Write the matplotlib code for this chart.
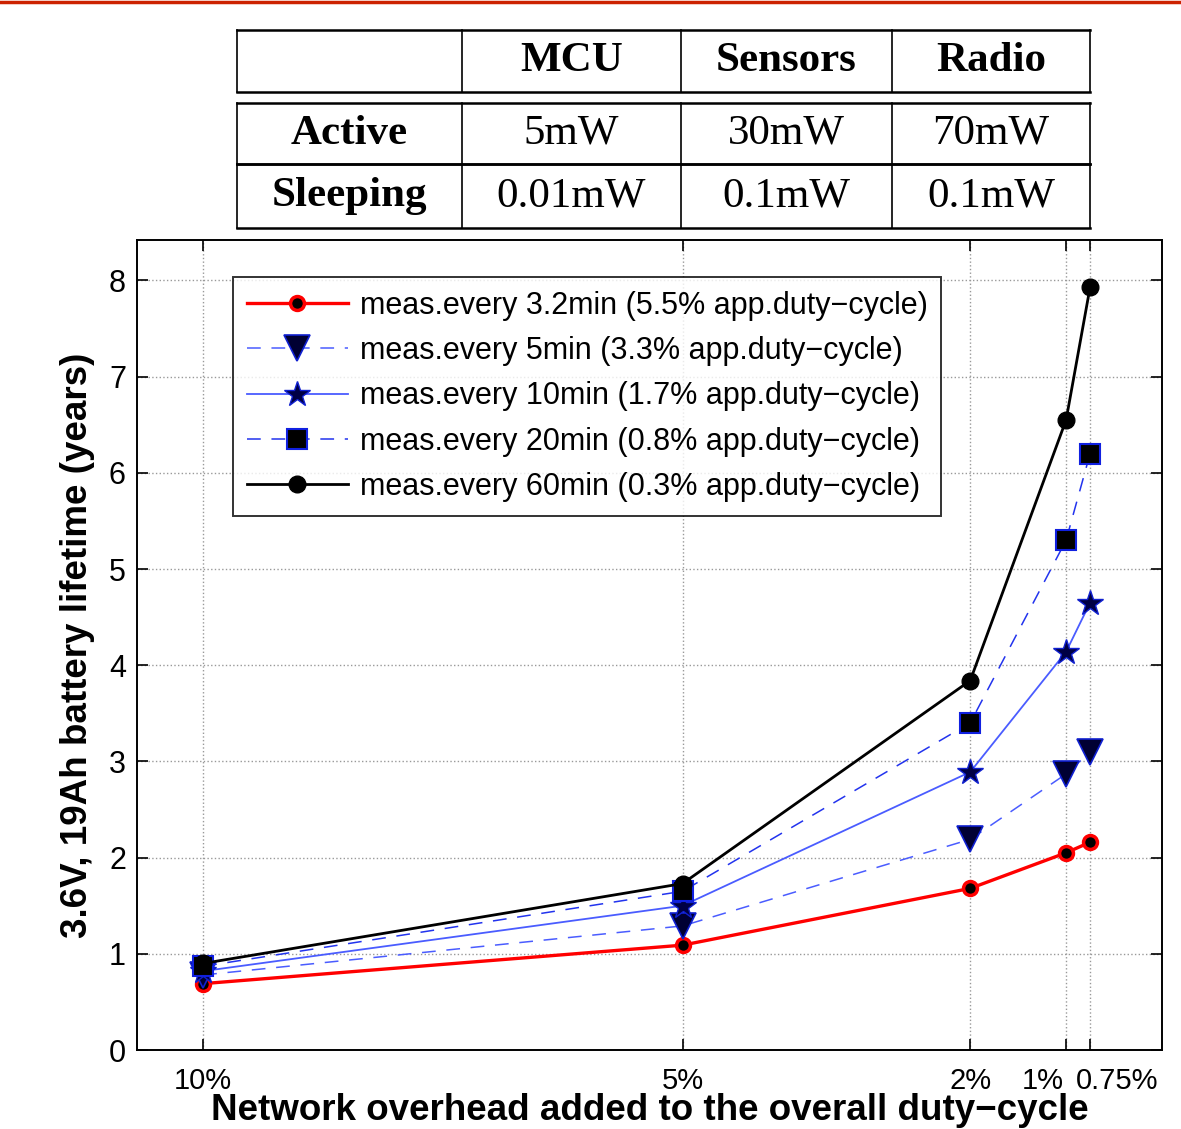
import matplotlib.pyplot as plt
import matplotlib.transforms as mtransforms
from matplotlib.lines import Line2D

# network overhead (%) on x, lifetime (years) on y
overhead = [10, 5, 2, 1, 0.75]
overhead_labels = ['10%', '5%', '2%', '1%', '0.75%']

life_3min = [0.69, 1.09, 1.68, 2.05, 2.16]
life_5min = [0.78, 1.29, 2.19, 2.87, 3.10]
life_10min = [0.82, 1.50, 2.89, 4.14, 4.65]
life_20min = [0.87, 1.65, 3.40, 5.30, 6.20]
life_60min = [0.90, 1.73, 3.84, 6.55, 7.93]

labels = ['meas.every 3.2min (5.5% app.duty\u2212cycle)',
          'meas.every 5min (3.3% app.duty\u2212cycle)',
          'meas.every 10min (1.7% app.duty\u2212cycle)',
          'meas.every 20min (0.8% app.duty\u2212cycle)',
          'meas.every 60min (0.3% app.duty\u2212cycle)']

# power table
tbl_cols = ['', 'MCU', 'Sensors', 'Radio']
tbl_active = ['Active', '5mW', '30mW', '70mW']
tbl_sleep = ['Sleeping', '0.01mW', '0.1mW', '0.1mW']

fig = plt.figure(figsize=(11.81, 11.29), dpi=100)
W, H = 1181.0, 1129.0

# red rule at very top
fig.add_artist(Line2D([0, 1], [1 - 1.5 / H, 1 - 1.5 / H], color='#cc2200', lw=2.5))

# ---- table drawn in figure pixels
col_x = [237, 462, 681, 892, 1090]
def hline(y, lw=1.8):
    fig.add_artist(Line2D([col_x[0] / W, col_x[-1] / W], [1 - y / H, 1 - y / H], color='k', lw=lw))
def vline(x, y0, y1):
    fig.add_artist(Line2D([x / W, x / W], [1 - y0 / H, 1 - y1 / H], color='k', lw=1.2))

row_spans = [(30, 92), (103, 164), (164, 228)]
for y0, y1 in row_spans:
    hline(y0)
    hline(y1)
    for x in col_x:
        vline(x, y0, y1)

serif = 'Liberation Serif'
for row, (y0, y1) in zip([tbl_cols, tbl_active, tbl_sleep], row_spans):
    for i, txt in enumerate(row):
        cx = (col_x[i] + col_x[i + 1]) / 2
        bold = (row is tbl_cols) or i == 0
        fig.text(cx / W, 1 - (y0 + y1) / 2 / H, txt, ha='center', va='center',
                 family=serif, fontsize=31, fontweight='bold' if bold else 'normal')

# ---- plot
ax = fig.add_axes([137 / W, 1 - 1050 / H, (1162 - 137) / W, (1050 - 240) / H])
sans = 'Liberation Sans'

ax.plot(overhead, life_3min, '-', color='red', lw=2.4, marker='o', ms=10,
        mfc='black', mec='red', mew=2.5, label=labels[0])
ax.plot(overhead, life_5min, '--', color='#4a5cff', lw=1.1, dashes=(9, 7), marker='v', ms=19,
        mfc='#000033', mec='#1020d0', mew=1.2, label=labels[1])
ax.plot(overhead, life_10min, '-', color='#4a5cff', lw=1.3, marker='*', ms=19,
        mfc='#000044', mec='#1020d0', mew=1, label=labels[2])
ax.plot(overhead, life_20min, '--', color='#2233ee', lw=1.1, dashes=(9, 7), marker='s', ms=14,
        mfc='black', mec='#1020e0', mew=1.5, label=labels[3])
ax.plot(overhead, life_60min, '-', color='black', lw=2, marker='o', ms=12,
        mfc='black', mec='black', label=labels[4])

ax.set_xlim(10.69, 0)
ax.set_ylim(0, 8.42)
ax.set_xticks(overhead)
ax.set_xticklabels(overhead_labels, family=sans, fontsize=21)
ax.set_yticks(range(9))
ax.set_yticklabels([str(v) for v in range(9)], family=sans, fontsize=22)
ax.tick_params(direction='in', length=8, width=1.2, top=True, right=True, pad=8)
ax.tick_params(axis='x', pad=12)
ax.grid(True, linestyle=':', color='#999999', lw=1)
for s in ax.spines.values():
    s.set_linewidth(1.4)

# crowded labels at the right: push 1% left and 0.75% right
xt = ax.get_xticklabels()
xt[3].set_horizontalalignment('right')
xt[3].set_transform(xt[3].get_transform() + mtransforms.ScaledTranslation(-2 / 72, 0, fig.dpi_scale_trans))
xt[4].set_horizontalalignment('left')
xt[4].set_transform(xt[4].get_transform() + mtransforms.ScaledTranslation(-10 / 72, 0, fig.dpi_scale_trans))

ax.set_ylabel('3.6V, 19Ah battery lifetime (years)', family=sans, fontsize=26.5,
              fontweight='bold', labelpad=10)
ax.set_xlabel('Network overhead added to the overall duty\u2212cycle', family=sans,
              fontsize=26.5, fontweight='bold', labelpad=-1)

leg = ax.legend(loc='upper left', bbox_to_anchor=((233 - 137) / (1162 - 137), 1 - (277 - 240) / 810.0),
                prop={'family': sans, 'size': 22}, frameon=True, fancybox=False,
                edgecolor='black', handlelength=3.3, labelspacing=0.5, borderpad=0.45,
                handletextpad=0.4, borderaxespad=0)
leg.get_frame().set_linewidth(1.4)

fig.savefig('out.png', dpi=100)
